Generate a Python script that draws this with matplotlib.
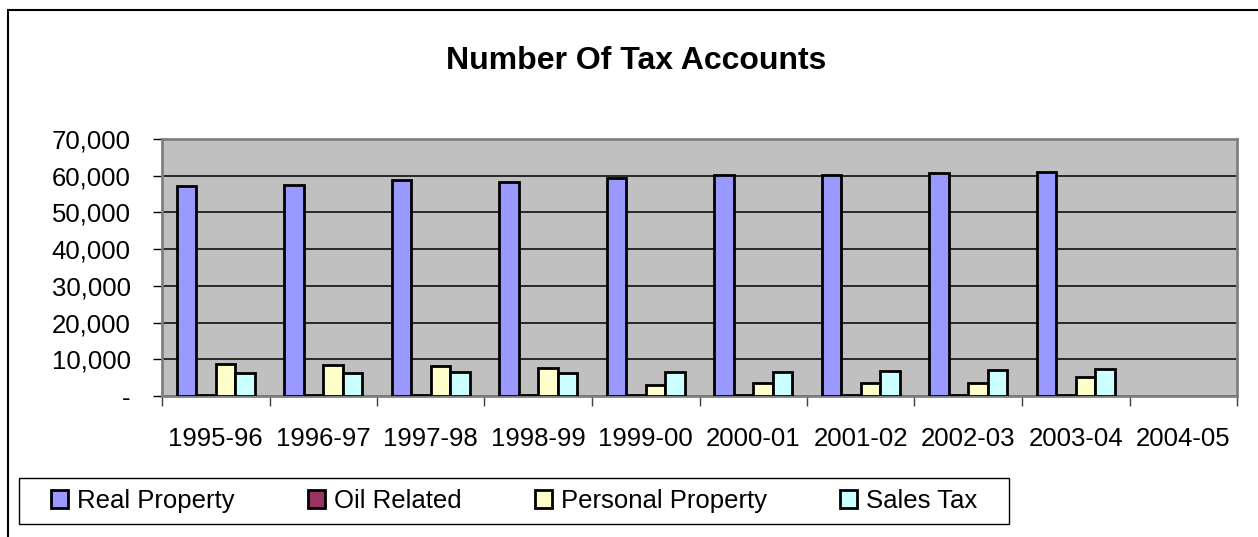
import matplotlib

matplotlib.use("Agg")
import matplotlib.pyplot as plt
import numpy as np
from matplotlib.patches import Rectangle
from matplotlib.ticker import FuncFormatter

plt.rcParams["font.family"] = ["Liberation Sans", "DejaVu Sans"]

# 2004-05 has no data yet
years = ["1995-96", "1996-97", "1997-98", "1998-99", "1999-00",
         "2000-01", "2001-02", "2002-03", "2003-04", "2004-05"]
real_property = [57200, 57600, 58700, 58400, 59500, 60200, 60200, 60700, 61000, None]
oil_related = [250, 250, 250, 250, 250, 250, 250, 250, 250, None]
personal_property = [8600, 8450, 8100, 7750, 3000, 3450, 3450, 3650, 5200, None]
sales_tax = [6200, 6200, 6550, 6350, 6650, 6650, 6900, 7000, 7350, None]

series = [
    ("Real Property", real_property, "#9999FF"),
    ("Oil Related", oil_related, "#993366"),
    ("Personal Property", personal_property, "#FFFFCC"),
    ("Sales Tax", sales_tax, "#CCFFFF"),
]

W, H = 1258, 537
fig = plt.figure(figsize=(W / 100, H / 100), dpi=100)
ax = fig.add_axes([162 / W, 1 - 396 / H, (1237 - 162) / W, (396 - 139) / H])
ax.set_facecolor("#C0C0C0")

x = np.arange(len(years))
w = 1 / 5.5
for i, (name, vals, color) in enumerate(series):
    heights = np.array([np.nan if v is None else v for v in vals], dtype=float)
    ax.bar(x + (i - 1.5) * w, heights, width=w, color=color, edgecolor="black",
           linewidth=2.0, label=name, zorder=3)

ax.set_xlim(-0.5, len(years) - 0.5)
ax.set_ylim(0, 70000)
ax.set_yticks(range(0, 70001, 10000))
ax.yaxis.set_major_formatter(FuncFormatter(lambda v, p: "-" if v == 0 else f"{int(v):,}"))
ax.grid(axis="y", color="black", linewidth=1.1, zorder=1)

ax.set_xticks(x)
ax.set_xticklabels(years)
ax.set_xticks(np.arange(-0.5, len(years)), minor=True)
ax.tick_params(axis="x", which="major", length=0, pad=22, labelsize=18.5)
ax.tick_params(axis="x", which="minor", length=7, width=1, color="#404040")
ax.tick_params(axis="y", length=6.5, width=1, labelsize=18.5, pad=16)

for s in ax.spines.values():
    s.set_color("#808080")
    s.set_linewidth(2)

fig.text(0.506, 1 - 69 / H, "Number Of Tax Accounts", ha="center", va="baseline",
         fontsize=23, fontweight="bold")

# legend contents, with its frame drawn separately
ax.legend(loc="center", bbox_to_anchor=(514 / W, 1 - 501 / H),
          bbox_transform=fig.transFigure, ncol=4, frameon=False, fontsize=18.5,
          handlelength=0.66, handleheight=0.66, handletextpad=0.35,
          columnspacing=2.85, borderpad=0)
fig.patches.append(Rectangle((19 / W, 1 - 524 / H), 990 / W, 46 / H,
                             transform=fig.transFigure, fill=False,
                             edgecolor="black", linewidth=1))

# outer chart border (cropped on the right and bottom)
fig.patches.append(Rectangle((8 / W, -0.1), 1.2, 1 - 10 / H + 0.1,
                             transform=fig.transFigure, fill=False,
                             edgecolor="black", linewidth=1.5))

fig.savefig("out.png", dpi=100)
plt.close(fig)
